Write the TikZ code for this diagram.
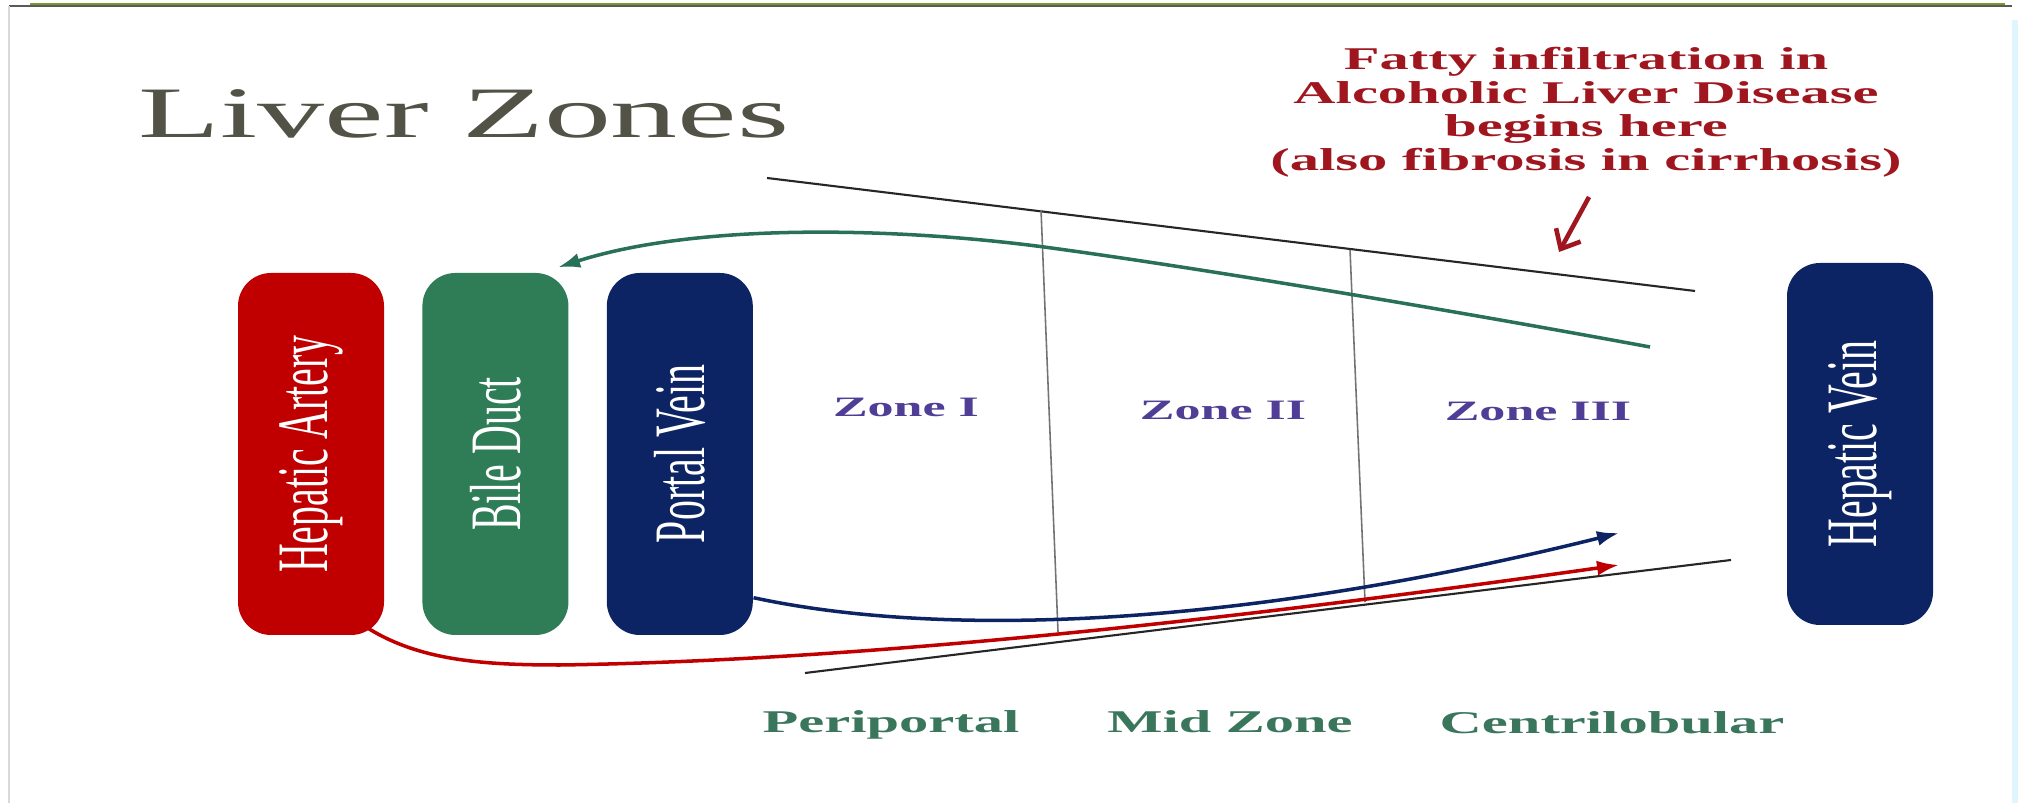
\documentclass[tikz,border=0pt]{standalone}
\usepackage{graphicx}
\usepackage{fontspec}
\setmainfont{Liberation Serif}
\newfontfamily\widefont[FakeStretch=1.85]{Liberation Serif}
\newfontfamily\tallfont[FakeStretch=0.55]{Liberation Serif}
\usetikzlibrary{arrows.meta,positioning}
\definecolor{artred}{RGB}{192,0,0}
\definecolor{ductgreen}{RGB}{46,125,87}
\definecolor{veinblue}{RGB}{12,36,99}
\definecolor{notered}{RGB}{160,22,30}
\definecolor{zonepurple}{RGB}{80,62,150}
\definecolor{regiongreen}{RGB}{58,118,92}
\definecolor{titlegray}{RGB}{82,82,70}
\definecolor{flowgreen}{RGB}{40,112,88}
\definecolor{frameolive}{RGB}{122,152,42}

\begin{document}
\begin{tikzpicture}[x=0.1mm,y=-0.1mm,node distance=3.7mm,>={Latex[length=2.2mm,width=1.5mm]},
  vessel/.style={rounded corners=3.3mm,minimum width=14.6mm,minimum height=36.2mm,inner sep=0pt,text=white,font=\tallfont\fontsize{20.6}{24}\selectfont},
  zone/.style={anchor=base,inner sep=0pt,text=zonepurple,font=\widefont\bfseries\fontsize{8}{10}\selectfont},
  region/.style={anchor=base,inner sep=0pt,text=regiongreen,font=\widefont\bfseries\fontsize{9}{11}\selectfont},
  border/.style={line width=0.6pt,black!85},
  divider/.style={line width=0.45pt,black!55},
  flow/.style={->,line width=1pt}]
\useasboundingbox (0,0) rectangle (2020,803);
% frame
\draw[line width=0.8pt,black!65] (9,6) -- (2012,6);
\draw[line width=0.8pt,frameolive] (30,4) -- (2005,4);
\draw[line width=0.8pt,black!15] (9,6) -- (9,803);
\draw[line width=1.5pt,cyan!12] (2015,20) -- (2015,803);
% titles
\node[anchor=base west,inner sep=0pt,text=titlegray,font=\widefont\fontsize{20.6}{24}\selectfont] (title) at (138,138) {Liver Zones};
\node[anchor=north,align=center,inner sep=0pt,text=notered,font=\widefont\bfseries\fontsize{9}{9.5}\selectfont] (fatty) at (1586,47)
  {Fatty infiltration in\\Alcoholic Liver Disease\\begins here\\(also fibrosis in cirrhosis)};
% vessels
\node[vessel,fill=artred] (artery) at (311,454) {\rotatebox{90}{Hepatic Artery}};
\node[vessel,fill=ductgreen,right=of artery] (duct) {\rotatebox{90}{Bile Duct}};
\node[vessel,fill=veinblue,right=of duct] (portal) {\rotatebox{90}{Portal Vein}};
\node[vessel,fill=veinblue] (hepvein) at (1860,444) {\rotatebox{90}{Hepatic Vein}};
% lobule
\coordinate (topa) at (767,178); \coordinate (topb) at (1695,291);
\coordinate (bota) at (805,673); \coordinate (botb) at (1731,560);
\coordinate (cut1a) at (1041,210); \coordinate (cut1b) at (1058,632);
\coordinate (cut2a) at (1350,250); \coordinate (cut2b) at (1365,602);
\draw[border] (topa) -- (topb); \draw[border] (bota) -- (botb);
\draw[divider] (cut1a) -- (cut1b); \draw[divider] (cut2a) -- (cut2b);
\node[zone] (zone1) at (906,417) {Zone I};
\node[zone] (zone2) at (1223,420) {Zone II};
\node[zone] (zone3) at (1538,421) {Zone III};
\node[region] (peri) at (891,733) {Periportal};
\node[region] (midz) at (1230,733) {Mid Zone};
\node[region] (centri) at (1612,734) {Centrilobular};
% flows
\coordinate (bileout) at (1650,347); \coordinate (bilebend) at (1044,247);
\coordinate (portalin) at (1619,533); \coordinate (arterin) at (1619,565);
\coordinate (arterbend) at (560,665);
\draw[flow,flowgreen] (bileout) .. controls (1450,310) and (1200,268) .. (bilebend)
  .. controls (900,228) and (700,222) .. ([xshift=-1.1mm,yshift=0.5mm]duct.north east);
\draw[flow,veinblue] ([yshift=3.8mm]portal.south east) .. controls (950,640) and (1250,625) .. (portalin);
\draw[flow,artred] ([xshift=-1.6mm,yshift=0.7mm]artery.south east) .. controls (420,660) and (480,665) .. (arterbend)
  .. controls (900,660) and (1300,610) .. (arterin);
% pointer
\coordinate (pointtail) at (1589,197); \coordinate (pointtip) at (1559,252);
\draw[notered,line width=1.3pt,-{Straight Barb[length=1.6mm,width=2.8mm]}] (pointtail) -- (pointtip);
\end{tikzpicture}
\end{document}
